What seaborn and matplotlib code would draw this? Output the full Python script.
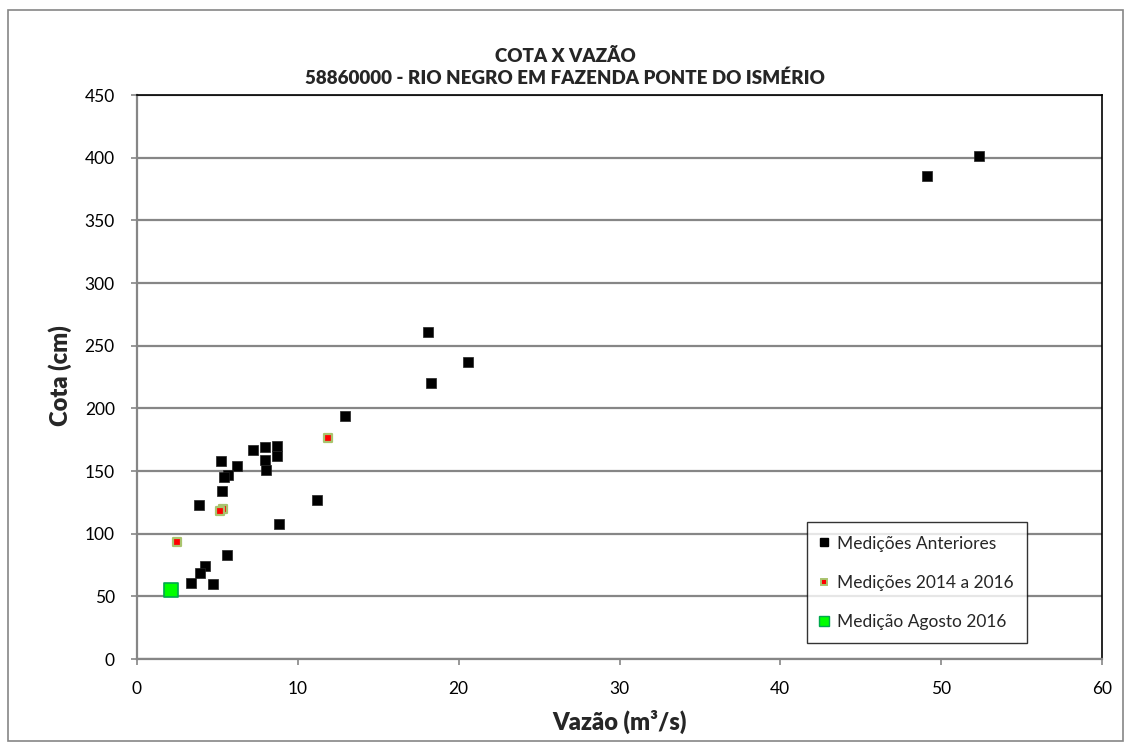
import matplotlib
matplotlib.use("Agg")
import matplotlib.pyplot as plt
import seaborn as sns
import pandas as pd
from matplotlib.patches import Rectangle
from matplotlib.lines import Line2D

# Data
prev_q = [12.95, 7.19, 7.98, 8.73, 8.73, 7.96, 8.04, 5.20, 6.22, 5.68, 5.43, 5.29,
          3.83, 11.17, 8.83, 5.60, 4.23, 3.92, 3.34, 4.71, 18.08, 20.57, 18.28,
          52.38, 49.11]
prev_h = [194, 167, 169, 170, 162, 159, 151, 158, 154, 147, 145, 134,
          123, 127, 108, 83, 74, 69, 61, 60, 261, 237, 220,
          401, 385]
rec_q = [11.88, 5.37, 5.16, 2.49]
rec_h = [176, 120, 118, 93]
aug_q = [2.09]
aug_h = [55]

labels = ["Medições Anteriores", "Medições 2014 a 2016", "Medição Agosto 2016"]
x_ticks = [0, 10, 20, 30, 40, 50, 60]
y_ticks = [0, 50, 100, 150, 200, 250, 300, 350, 400, 450]

sns.set_style("white")
plt.rcParams['font.family'] = ['Lato', 'DejaVu Sans']

W, H = 1131, 749
fig = plt.figure(figsize=(W / 100, H / 100), dpi=100)
ax = fig.add_axes([137 / W, 1 - 659 / H, (1102 - 137) / W, (659 - 95) / H])

df_prev = pd.DataFrame({"q": prev_q, "h": prev_h})
df_rec = pd.DataFrame({"q": rec_q, "h": rec_h})
df_aug = pd.DataFrame({"q": aug_q, "h": aug_h})

sns.scatterplot(data=df_prev, x="q", y="h", ax=ax, marker="s", s=44,
                color="black", edgecolor="#222222", linewidth=0.5, zorder=3)
sns.scatterplot(data=df_rec, x="q", y="h", ax=ax, marker="s", s=30,
                color="#FF0000", edgecolor="#A9C46E", linewidth=1.6, zorder=4)
sns.scatterplot(data=df_aug, x="q", y="h", ax=ax, marker="s", s=95,
                color="#00FF00", edgecolor="#00A84F", linewidth=1.2, zorder=5)

ax.set_xlim(0, 60)
ax.set_ylim(0, 450)
ax.set_xticks(x_ticks)
ax.set_yticks(y_ticks)
ax.set_xticklabels([str(v) for v in x_ticks], fontsize=12.5)
ax.set_yticklabels([str(v) for v in y_ticks], fontsize=12.5)
ax.yaxis.grid(True, color="#868686", linewidth=1.6)
ax.xaxis.grid(False)
ax.set_axisbelow(True)
ax.tick_params(axis="y", direction="out", length=4, width=1.2, color="#868686",
               pad=12, labelcolor="black", left=True)
ax.tick_params(axis="x", direction="out", length=4, width=1.2, color="#868686",
               pad=12, labelcolor="black", bottom=True)

for side in ["left", "bottom"]:
    ax.spines[side].set_color("#868686")
    ax.spines[side].set_linewidth(1.6)
for side in ["top", "right"]:
    ax.spines[side].set_color("black")
    ax.spines[side].set_linewidth(1.2)
    ax.spines[side].set_visible(True)

ax.set_xlabel("Vazão (m³/s)", fontsize=17, fontweight="heavy")
ax.set_ylabel("Cota (cm)", fontsize=17, fontweight="heavy")
ax.xaxis.set_label_coords(0.5, (659 - 710) / 564)
ax.yaxis.set_label_coords((72 - 137) / 965, 0.502)

fig.text(0.4996, 1 - 57 / H, "COTA X VAZÃO", ha="center", va="center",
         fontsize=13.5, fontweight="heavy")
fig.text(0.4996, 1 - 78 / H, "58860000 - RIO NEGRO EM FAZENDA PONTE DO ISMÉRIO",
         ha="center", va="center", fontsize=13.5, fontweight="heavy")

handles = [
    Line2D([], [], linestyle="none", marker="s", markersize=6,
           markerfacecolor="black", markeredgecolor="black"),
    Line2D([], [], linestyle="none", marker="s", markersize=5,
           markerfacecolor="#FF0000", markeredgecolor="#A9C46E", markeredgewidth=1.4),
    Line2D([], [], linestyle="none", marker="s", markersize=7.5,
           markerfacecolor="#00FF00", markeredgecolor="#00A84F", markeredgewidth=1.0),
]
leg = ax.legend(handles, labels, loc="upper left",
                bbox_to_anchor=(807 / W, 1 - 522 / H), bbox_transform=fig.transFigure,
                fontsize=12.5, frameon=True, fancybox=False, handlelength=0.45,
                handletextpad=0.5, labelspacing=1.33, borderpad=0.78,
                borderaxespad=0)
leg.get_frame().set_edgecolor("black")
leg.get_frame().set_linewidth(1.0)

fig.patches.append(Rectangle((8 / W, 1 - 741 / H), (1123 - 8) / W, (741 - 10) / H,
                             transform=fig.transFigure, fill=False,
                             edgecolor="#868686", linewidth=1.2))

fig.savefig("out.png", dpi=100)
